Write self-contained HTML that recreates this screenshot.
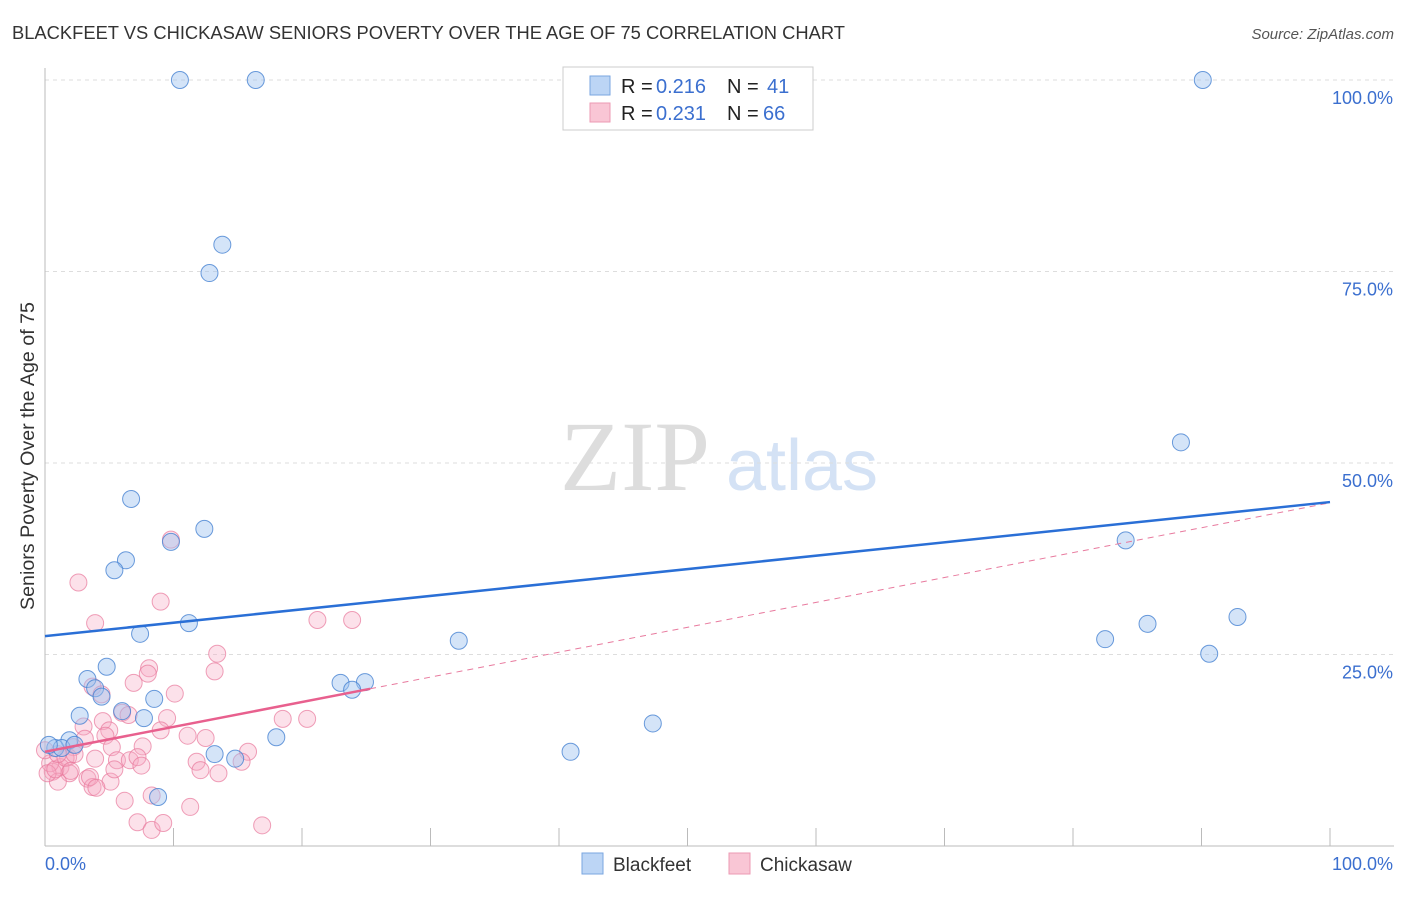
<!DOCTYPE html>
<html><head><meta charset="utf-8"><style>
body{margin:0;background:#fff;font-family:"Liberation Sans",sans-serif;}
svg text{font-family:"Liberation Sans",sans-serif;}
</style></head><body>
<svg id="c" width="1406" height="892" xmlns="http://www.w3.org/2000/svg">
<text x="12" y="39" font-size="18" fill="#333" textLength="833" lengthAdjust="spacingAndGlyphs">BLACKFEET VS CHICKASAW SENIORS POVERTY OVER THE AGE OF 75 CORRELATION CHART</text>
<text x="1394" y="39" font-size="15" fill="#555" text-anchor="end" font-style="italic">Source: ZipAtlas.com</text>
<g>
<text x="635" y="490" font-size="100" fill="#ddd" style="font-family:'Liberation Serif',serif" text-anchor="middle">ZIP</text>
<text x="802" y="490" font-size="72" fill="#d4e2f5" text-anchor="middle">atlas</text>
</g>
<g id="grid"></g>
<g id="axes"></g>
<text transform="translate(34,456) rotate(-90)" font-size="19" fill="#333" text-anchor="middle" textLength="308" lengthAdjust="spacingAndGlyphs">Seniors Poverty Over the Age of 75</text>
<g id="pts"></g>
<g id="lines"></g>
<g>
<rect x="563" y="67" width="250" height="63" fill="#fff" stroke="#ccc"/>
<rect x="590" y="76" width="20" height="19" fill="#bcd5f5" stroke="#7aa6e0"/>
<rect x="590" y="103" width="20" height="19" fill="#f9c6d5" stroke="#ec9ab3"/>
<text x="621" y="93" font-size="20" fill="#222">R =</text>
<text x="656" y="93" font-size="20" fill="#3b6fcf">0.216</text>
<text x="727" y="93" font-size="20" fill="#222">N =</text>
<text x="767" y="93" font-size="20" fill="#3b6fcf">41</text>
<text x="621" y="120" font-size="20" fill="#222">R =</text>
<text x="656" y="120" font-size="20" fill="#3b6fcf">0.231</text>
<text x="727" y="120" font-size="20" fill="#222">N =</text>
<text x="763" y="120" font-size="20" fill="#3b6fcf">66</text>
</g>
<g>
<rect x="582" y="853" width="21" height="21" fill="#bcd5f5" stroke="#7aa6e0"/>
<text x="613" y="871" font-size="19" fill="#333">Blackfeet</text>
<rect x="729" y="853" width="21" height="21" fill="#f9c6d5" stroke="#ec9ab3"/>
<text x="760" y="871" font-size="19" fill="#333">Chickasaw</text>
</g>
</svg>
<script>
const yTicks=[25,50,75,100];
const yTickLabels=["25.0%","50.0%","75.0%","100.0%"];
const xLabels=["0.0%","100.0%"];
const blackX=[10.5,16.4,90.1,13.8,12.8,88.4,6.7,84.1,12.4,9.8,6.3,5.4,11.2,7.4,92.8,85.8,32.2,82.5,90.6,4.8,3.3,3.9,4.4,8.5,23.0,24.9,23.9,6.0,7.7,2.7,47.3,18.0,13.2,14.8,40.9,1.9,0.8,1.3,2.3,8.8,0.3];
const blackY=[100,100,100,78.5,74.8,52.7,45.3,39.9,41.4,39.7,37.3,36.0,29.1,27.7,29.9,29.0,26.8,27.0,25.1,23.4,21.8,20.6,19.5,19.2,21.3,21.4,20.4,17.6,16.7,17.0,16.0,14.2,12.0,11.4,12.3,13.8,12.8,12.8,13.2,6.4,13.2];
const chickX=[2.6,9.0,3.9,21.2,23.9,9.8,13.4,13.2,8.1,8.0,6.9,10.1,3.7,4.4,6.0,6.5,9.5,18.5,20.4,4.5,3.0,5.0,9.0,4.7,3.1,11.1,12.5,7.6,5.2,2.2,15.8,3.9,5.6,6.6,7.2,7.5,11.8,12.1,13.5,15.3,1.8,1.2,0.6,1.9,1.0,3.3,3.7,5.1,6.2,8.3,11.3,7.2,8.3,9.2,16.9,0.4,0.2,0.8,1.6,0.0,2.3,5.4,3.5,1.0,2.0,4.0];
const chickY=[34.4,31.9,29.1,29.5,29.5,40.0,25.1,22.8,23.2,22.5,21.3,19.9,20.8,19.8,17.4,17.1,16.7,16.6,16.6,16.3,15.6,15.1,15.1,14.4,14.0,14.4,14.1,13.0,12.9,12.9,12.3,11.4,11.2,11.2,11.6,10.5,11.0,9.9,9.5,11.0,11.6,10.3,9.7,9.5,8.4,8.8,7.7,8.4,5.9,6.6,5.1,3.1,2.1,3.0,2.7,10.8,9.5,10.0,11.5,12.5,12.0,10.0,9.0,12.0,9.8,7.6];
const blueFit=[27.4,44.9];
const pinkFit=[12.3,44.8];
const pinkSolidEnd=25.3;

const NS="http://www.w3.org/2000/svg";
const X0=45,X1=1330,Y0=846,Y100=80;
const sx=v=>X0+(X1-X0)*v/100;
const sy=v=>Y0-(Y0-Y100)*v/100;
function el(t,a,p){const e=document.createElementNS(NS,t);for(const k in a)e.setAttribute(k,a[k]);document.getElementById(p).appendChild(e);return e;}
yTicks.forEach((t,i)=>{
 const g=el('line',{x1:X0,x2:1394,y1:sy(t),y2:sy(t),stroke:'#ddd','stroke-dasharray':'4,4'},'grid');
 
 
 const l=el('text',{x:1393,y:sy(t)+24,'font-size':18,fill:'#3b6fcf','text-anchor':'end'},'axes');
 l.textContent=yTickLabels[i];
 
 
});
el('line',{x1:X0,x2:X0,y1:68,y2:Y0,stroke:'#bbb'},'axes');
el('line',{x1:X0,x2:1394,y1:Y0,y2:Y0,stroke:'#bbb'},'axes');
for(let i=1;i<=10;i++){el('line',{x1:sx(i*10),x2:sx(i*10),y1:828,y2:Y0,stroke:'#bbb'},'axes');}
const xl0=el('text',{x:45,y:870,'font-size':18,fill:'#3b6fcf'},'axes');xl0.textContent=xLabels[0];


const xl1=el('text',{x:1393,y:870,'font-size':18,fill:'#3b6fcf','text-anchor':'end'},'axes');xl1.textContent=xLabels[1];


chickX.forEach((x,i)=>{const c=el('circle',{cx:sx(x),cy:sy(chickY[i]),r:8.5,fill:'rgba(247,170,195,0.35)',stroke:'rgba(232,120,155,0.7)','stroke-width':1},'pts');
 
 });
blackX.forEach((x,i)=>{const c=el('circle',{cx:sx(x),cy:sy(blackY[i]),r:8.5,fill:'rgba(160,195,240,0.45)',stroke:'rgba(70,130,210,0.8)','stroke-width':1},'pts');
 
 });
const pf=x=>pinkFit[0]+(pinkFit[1]-pinkFit[0])*x/100;
const d=el('line',{x1:sx(pinkSolidEnd),y1:sy(pf(pinkSolidEnd)),x2:sx(100),y2:sy(pf(100)),stroke:'#e87a9e','stroke-width':1,'stroke-dasharray':'6,5'},'lines');


const p=el('line',{x1:sx(0),y1:sy(pf(0)),x2:sx(pinkSolidEnd),y2:sy(pf(pinkSolidEnd)),stroke:'#e8608e','stroke-width':2.5},'lines');


const b=el('line',{x1:sx(0),y1:sy(blueFit[0]),x2:sx(100),y2:sy(blueFit[1]),stroke:'#2a6fd6','stroke-width':2.5},'lines');


</script>
</body></html>
